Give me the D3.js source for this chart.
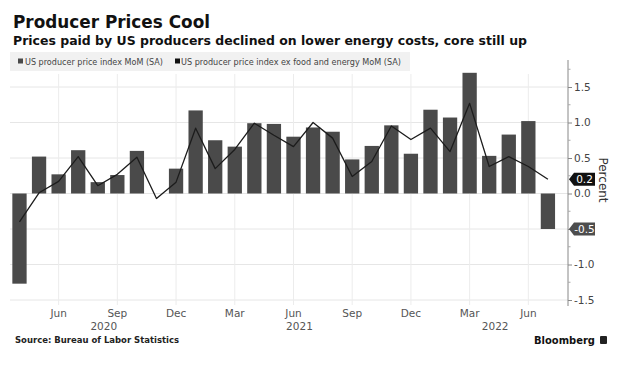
<!DOCTYPE html>
<html>
<head>
  <meta charset="utf-8">
  <script src="https://d3js.org/d3.v7.min.js"></script>
</head>

<style>
body { margin: 0; background: #fff; }
text { font-family: "DejaVu Sans", sans-serif; }
</style>

<body>
</body>

<script>
    // monthly data, Apr 2020 .. Jul 2022
    var months = ["2020-04","2020-05","2020-06","2020-07","2020-08","2020-09","2020-10","2020-11","2020-12",
      "2021-01","2021-02","2021-03","2021-04","2021-05","2021-06","2021-07","2021-08","2021-09","2021-10","2021-11","2021-12",
      "2022-01","2022-02","2022-03","2022-04","2022-05","2022-06","2022-07"];
    var ppi = [-1.27, 0.52, 0.27, 0.61, 0.16, 0.26, 0.60, 0.0, 0.35,
      1.17, 0.75, 0.66, 0.99, 0.98, 0.80, 0.93, 0.87, 0.48, 0.67, 0.96, 0.56,
      1.18, 1.07, 1.70, 0.53, 0.83, 1.02, -0.5];
    var core = [-0.40, 0.01, 0.17, 0.52, 0.11, 0.27, 0.51, -0.07, 0.16,
      0.92, 0.35, 0.62, 0.99, 0.82, 0.66, 1.0, 0.78, 0.24, 0.45, 0.95, 0.76,
      0.92, 0.59, 1.27, 0.38, 0.52, 0.38, 0.2];
    var tickMonths = ["2020-06","2020-09","2020-12","2021-03","2021-06","2021-09","2021-12","2022-03","2022-06"];
    var tickLabels = ["Jun","Sep","Dec","Mar","Jun","Sep","Dec","Mar","Jun"];
    var yearLabels = ["2020","2021","2022"];
    var yearAt = ["2020-08","2021-06","2022-04"];
    var yTicks = [-1.5, -1.0, -0.5, 0.0, 0.5, 1.0, 1.5];

    var W = 630, H = 369;
    var svg = d3.select("body").append("svg")
      .attr("width", W)
      .attr("height", H);

    var x = d3.scaleBand().domain(months).range([9.7, 557.7]).padding(0);
    var y = d3.scaleLinear().domain([-1.5, 1.5]).range([300, 87]);
    var axisX = 568;
    var barW = x.bandwidth() * 0.73;
    var cx = function(m) { return x(m) + x.bandwidth() / 2; };
    var fmt = function(v) { return v.toFixed(1); };

    function fit(sel, w) {
      sel.attr("textLength", w).attr("lengthAdjust", "spacingAndGlyphs");
    }

    // titles
    svg.append("text").attr("x", 13).attr("y", 28)
      .attr("font-size", 17).attr("font-weight", "bold").attr("fill", "#111")
      .text("Producer Prices Cool").call(fit, 197);
    svg.append("text").attr("x", 13).attr("y", 45)
      .attr("font-size", 12.5).attr("font-weight", "bold").attr("fill", "#111")
      .text("Prices paid by US producers declined on lower energy costs, core still up").call(fit, 514);

    // legend
    svg.append("rect").attr("x", 10).attr("y", 52).attr("width", 400).attr("height", 19).attr("fill", "#f1f1f1");
    svg.append("rect").attr("x", 18).attr("y", 58.5).attr("width", 5).attr("height", 5).attr("fill", "#4a4a4a");
    svg.append("text").attr("x", 25).attr("y", 64.5).attr("font-size", 8.5).attr("fill", "#444")
      .text("US producer price index MoM (SA)").call(fit, 138);
    svg.append("rect").attr("x", 175).attr("y", 58.5).attr("width", 5).attr("height", 5).attr("fill", "#111");
    svg.append("text").attr("x", 181).attr("y", 64.5).attr("font-size", 8.5).attr("fill", "#444")
      .text("US producer price index ex food and energy MoM (SA)").call(fit, 220);

    // grid
    svg.append("g").selectAll("line").data(yTicks).enter().append("line")
      .attr("x1", 10).attr("x2", axisX)
      .attr("y1", function(d) { return y(d); }).attr("y2", function(d) { return y(d); })
      .attr("stroke", "#e6e6e6").attr("stroke-width", 1);
    svg.append("g").selectAll("line").data(tickMonths).enter().append("line")
      .attr("x1", cx).attr("x2", cx)
      .attr("y1", 74).attr("y2", 305)
      .attr("stroke", "#ececec").attr("stroke-width", 1);

    // bars
    svg.append("g").selectAll("rect").data(ppi).enter().append("rect")
      .attr("x", function(d, i) { return cx(months[i]) - barW / 2; })
      .attr("width", barW)
      .attr("y", function(d) { return y(Math.max(0, d)); })
      .attr("height", function(d) { return Math.abs(y(d) - y(0)); })
      .attr("fill", "#4a4a4a");

    // core line
    var line = d3.line()
      .x(function(d, i) { return cx(months[i]); })
      .y(function(d) { return y(d); });
    svg.append("path").datum(core)
      .attr("d", line)
      .attr("fill", "none")
      .attr("stroke", "#1c1c1c")
      .attr("stroke-width", 1.3)
      .attr("stroke-linejoin", "round");

    // right axis
    var yAxis = d3.axisRight(y).tickValues(yTicks).tickSize(4).tickPadding(2)
      .tickFormat(fmt);
    var ag = svg.append("g").attr("transform", "translate(" + axisX + ",0)").call(yAxis);
    ag.select(".domain").remove();
    ag.selectAll(".tick line").attr("stroke", "#888");
    ag.selectAll(".tick text").attr("font-size", 10.5).attr("fill", "#444")
      .attr("font-family", "DejaVu Sans");
    ag.append("line").attr("x1", 0).attr("x2", 0).attr("y1", 60).attr("y2", 306).attr("stroke", "#888");
    var minor = d3.range(-1.25, 1.8, 0.5);
    ag.selectAll(".minor").data(minor).enter().append("line")
      .attr("x1", 0).attr("x2", 2.5)
      .attr("y1", function(d) { return y(d); }).attr("y2", function(d) { return y(d); })
      .attr("stroke", "#aaa");

    // last value tags
    var tags = [
      { v: core[core.length - 1], fill: "#111" },
      { v: ppi[ppi.length - 1], fill: "#4d4d4d" }
    ];
    tags.forEach(function(t) {
      var ty = y(t.v);
      var g = svg.append("g");
      g.append("path")
        .attr("d", "M" + (axisX + 1) + "," + ty + " L" + (axisX + 6) + "," + (ty - 6.5) +
          " L" + (axisX + 27) + "," + (ty - 6.5) + " L" + (axisX + 27) + "," + (ty + 6.5) +
          " L" + (axisX + 6) + "," + (ty + 6.5) + " Z")
        .attr("fill", t.fill);
      g.append("text").attr("x", axisX + 16.5).attr("y", ty + 3.8)
        .attr("text-anchor", "middle").attr("font-size", 10.5).attr("fill", "#fff")
        .text(fmt(t.v));
    });

    svg.append("text")
      .attr("transform", "translate(599,180) rotate(90)")
      .attr("text-anchor", "middle").attr("font-size", 12).attr("fill", "#333")
      .text("Percent");

    // x labels
    svg.append("g").selectAll("text").data(tickLabels).enter().append("text")
      .attr("x", function(d, i) { return cx(tickMonths[i]); })
      .attr("y", 317)
      .attr("text-anchor", "middle").attr("font-size", 10.5).attr("fill", "#555")
      .text(function(d) { return d; });
    svg.append("g").selectAll("text").data(yearLabels).enter().append("text")
      .attr("x", function(d, i) { return cx(yearAt[i]) + 6; })
      .attr("y", 330)
      .attr("text-anchor", "middle").attr("font-size", 10.5).attr("fill", "#555")
      .text(function(d) { return d; });

    // footer
    svg.append("text").attr("x", 15).attr("y", 343)
      .attr("font-size", 9).attr("font-weight", "bold").attr("fill", "#222")
      .text("Source: Bureau of Labor Statistics").call(fit, 164);
    svg.append("text").attr("x", 534).attr("y", 344)
      .attr("font-size", 11).attr("font-weight", "bold").attr("fill", "#111")
      .text("Bloomberg").call(fit, 61);
    svg.append("rect").attr("x", 600).attr("y", 336).attr("width", 7).attr("height", 8)
      .attr("rx", 1).attr("fill", "#222");
</script>
</html>
